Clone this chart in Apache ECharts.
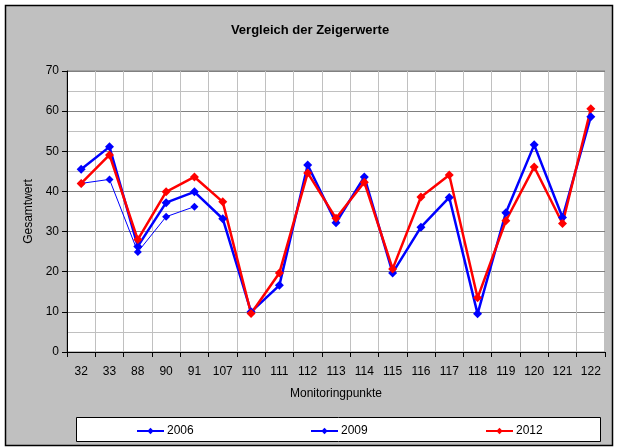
<!DOCTYPE html>
<html>
<head>
<meta charset="utf-8">
<script src="https://cdn.jsdelivr.net/npm/echarts@6/dist/echarts.min.js"></script>
<style>
  html, body { margin: 0; padding: 0; background: #fff; }
  #box { width: 620px; height: 448px; }
</style>
</head>
<body>
<div id="box"></div>
<script>
var punkte = ['32', '33', '88', '90', '91', '107', '110', '111', '112', '113', '114', '115', '116', '117', '118', '119', '120', '121', '122'];
var werte2006 = [42.0, 43.0, 24.9, 33.7, 36.2, null, null, null, null, null, null, null, null, null, null, null, null, null, null];
var werte2009 = [45.5, 51.1, 26.3, 37.2, 39.9, 33.2, 10.0, 16.6, 46.6, 32.2, 43.6, 19.7, 31.1, 38.5, 9.5, 34.7, 51.6, 33.5, 58.6];
var werte2012 = [42.0, 49.1, 28.0, 39.9, 43.6, 37.4, 9.6, 19.7, 44.6, 33.3, 42.3, 20.7, 38.6, 44.1, 13.5, 32.7, 46.1, 32.0, 60.6];
var jahre = ['2006', '2009', '2012'];

var schrift = '"Liberation Sans", Arial, sans-serif';
var myChart = echarts.init(document.getElementById('box'));

// eine Legende je Jahr, damit die Abstände wie im Original sitzen
var legendLeft = [131, 305, 480];
var legenden = jahre.map(function (j, i) {
  return {
    left: legendLeft[i],
    top: 420,
    itemWidth: 27,
    itemHeight: 8,
    textStyle: { fontFamily: schrift, fontSize: 12, color: '#000', padding: [0, 0, 0, -2] },
    data: [j]
  };
});

var option = {
  backgroundColor: '#fff',
  animation: false,
  textStyle: { fontFamily: schrift },
  graphic: [
    // Diagrammfläche grau mit schwarzem Rand
    { type: 'rect', z: -10, shape: { x: 5.5, y: 5.5, width: 607, height: 440 },
      style: { fill: '#c0c0c0', stroke: '#000', lineWidth: 1.5 } },
    // Legendenkasten
    { type: 'rect', z: -5, shape: { x: 76.5, y: 417.5, width: 524, height: 24 },
      style: { fill: '#fff', stroke: '#000', lineWidth: 1 } }
  ],
  title: {
    text: 'Vergleich der Zeigerwerte',
    left: 'center',
    top: 19,
    textStyle: { fontFamily: schrift, fontSize: 13, fontWeight: 'bold', color: '#000' }
  },
  legend: legenden,
  grid: {
    left: 67,
    right: 15,
    top: 71,
    bottom: 96,
    show: true,
    backgroundColor: '#fff',
    borderColor: '#808080',
    borderWidth: 1
  },
  xAxis: {
    type: 'category',
    data: punkte,
    name: 'Monitoringpunkte',
    nameLocation: 'middle',
    nameGap: 36,
    nameTextStyle: { fontFamily: schrift, fontSize: 12, color: '#000' },
    axisLine: { lineStyle: { color: '#000', width: 1 } },
    axisTick: { show: true, inside: false, length: 5, lineStyle: { color: '#000' } },
    axisLabel: { fontFamily: schrift, fontSize: 12, color: '#000', margin: 14 },
    splitLine: { show: true, lineStyle: { color: '#c0c0c0', width: 1 } }
  },
  yAxis: {
    type: 'value',
    min: 0,
    max: 70,
    interval: 10,
    name: 'Gesamtwert',
    nameLocation: 'middle',
    nameGap: 31,
    nameRotate: 90,
    nameTextStyle: { fontFamily: schrift, fontSize: 12, color: '#000' },
    axisLine: { show: true, lineStyle: { color: '#000', width: 1 } },
    axisTick: { show: true, length: 5, lineStyle: { color: '#000' } },
    axisLabel: { fontFamily: schrift, fontSize: 12, color: '#000', margin: 8 },
    splitLine: { show: true, lineStyle: { color: '#808080', width: 1 } },
    minorTick: { show: false, splitNumber: 2 },
    minorSplitLine: { show: true, lineStyle: { color: '#c0c0c0', width: 1 } }
  },
  series: [
    { name: '2006', type: 'line', data: werte2006, symbol: 'diamond', symbolSize: 8,
      color: '#0000ff', lineStyle: { width: 1, color: '#0000ff' }, itemStyle: { color: '#0000ff' } },
    { name: '2009', type: 'line', data: werte2009, symbol: 'diamond', symbolSize: 9,
      color: '#0000ff', lineStyle: { width: 2.5, color: '#0000ff' }, itemStyle: { color: '#0000ff' } },
    { name: '2012', type: 'line', data: werte2012, symbol: 'diamond', symbolSize: 9,
      color: '#ff0000', lineStyle: { width: 2.5, color: '#ff0000' }, itemStyle: { color: '#ff0000' } }
  ]
};
myChart.setOption(option);
</script>
</body>
</html>
